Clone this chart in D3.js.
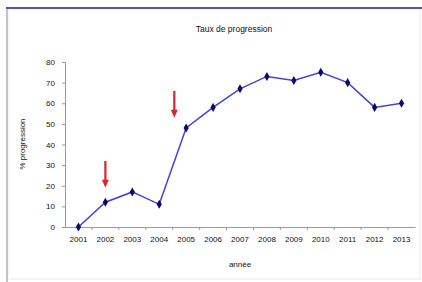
<!DOCTYPE html>
<html>
<head>
<meta charset="utf-8">
<script src="https://cdn.jsdelivr.net/npm/d3@7"></script>
<style>
  body { margin: 0; background: #fff; }
  svg { display: block; font-family: "Liberation Sans", Arial, sans-serif; }
</style>
</head>
<body>
<div class="chart-container"></div>
<script>
var years = ['2001', '2002', '2003', '2004', '2005', '2006', '2007', '2008', '2009', '2010', '2011', '2012', '2013'];
var progression = [0, 12, 17, 11, 48, 58, 67, 73, 71, 75, 70, 58, 60];
var yTicks = [0, 10, 20, 30, 40, 50, 60, 70, 80];

// red arrows: category, fraction toward next category, value of tail and tip
var arrowCats = ['2002', '2004'];
var arrowShift = [0, 0.56];
var arrowTop = [32, 66];
var arrowTip = [19, 53];

var W = 422, H = 282;
var margin = {top: 62, right: 7, bottom: 55, left: 65};

var svg = d3.select('.chart-container').append('svg')
  .attr('width', W)
  .attr('height', H);

// chart frame
svg.append('rect')
  .attr('x', 8).attr('y', 9)
  .attr('width', W - 10).attr('height', H - 12)
  .style('fill', '#fff')
  .style('stroke', '#ececec')
  .style('stroke-width', 1);
svg.append('line')
  .attr('x1', 7).attr('x2', 7).attr('y1', 8).attr('y2', H)
  .style('stroke', '#c4c4c4')
  .style('stroke-width', 2);
svg.append('line')
  .attr('x1', 6).attr('x2', W).attr('y1', 8).attr('y2', 8)
  .style('stroke', '#5b53a8')
  .style('stroke-width', 2);

var x = d3.scaleBand()
  .domain(years)
  .range([margin.left, W - margin.right]);

var y = d3.scaleLinear()
  .domain([0, 80])
  .range([H - margin.bottom, margin.top]);

var cx = d => x(d) + x.bandwidth() / 2;

// y axis
var gY = svg.append('g')
  .attr('transform', `translate(${margin.left},0)`)
  .call(d3.axisLeft(y).tickValues(yTicks).tickSize(3).tickPadding(7));

// x axis
var gX = svg.append('g')
  .attr('transform', `translate(0,${H - margin.bottom})`)
  .call(d3.axisBottom(x).tickSize(0).tickPadding(9));

gX.selectAll('.tickmark')
  .data(years.slice(1))
  .enter().append('line')
    .attr('x1', d => x(d)).attr('x2', d => x(d))
    .attr('y1', 0).attr('y2', 3)
    .style('stroke', '#999');

[gX, gY].forEach(function(g) {
  g.select('.domain').style('stroke', '#999');
  g.selectAll('.tick line').style('stroke', '#999');
  g.selectAll('text')
    .style('font-size', '8px')
    .style('fill', '#111');
  g.attr('font-family', null);
});

var line = d3.line()
  .x((d, i) => cx(years[i]))
  .y(d => y(d));

svg.append('path')
  .datum(progression)
  .attr('d', line)
  .style('fill', 'none')
  .style('stroke', '#4343d4')
  .style('stroke-width', 1.5);

svg.selectAll('.marker')
  .data(progression)
  .enter().append('path')
    .attr('class', 'marker')
    .attr('transform', (d, i) => `translate(${cx(years[i])},${y(d)})`)
    .attr('d', d3.symbol(d3.symbolDiamond, 24))
    .style('fill', '#0a0a6a');

// arrows
arrowCats.forEach(function(c, i) {
  var ax = cx(c) + arrowShift[i] * x.bandwidth();
  var y0 = y(arrowTop[i]);
  var y1 = y(arrowTip[i]);
  svg.append('line')
    .attr('x1', ax).attr('x2', ax)
    .attr('y1', y0).attr('y2', y1 - 6)
    .style('stroke', '#d8262c')
    .style('stroke-width', 2.2);
  svg.append('path')
    .attr('d', `M${ax - 3.5},${y1 - 8}L${ax + 3.5},${y1 - 8}L${ax},${y1}Z`)
    .style('fill', '#d8262c');
});

// titles
svg.append('text')
  .attr('x', 234).attr('y', 32)
  .attr('text-anchor', 'middle')
  .style('font-size', '8.5px')
  .style('fill', '#111')
  .text('Taux de progression');

svg.append('text')
  .attr('x', 240).attr('y', 267)
  .attr('text-anchor', 'middle')
  .style('font-size', '8px')
  .style('fill', '#111')
  .text('année');

svg.append('text')
  .attr('transform', 'translate(25,144) rotate(-90)')
  .attr('text-anchor', 'middle')
  .style('font-size', '8px')
  .style('fill', '#111')
  .text('% progression');
</script>
</body>
</html>
